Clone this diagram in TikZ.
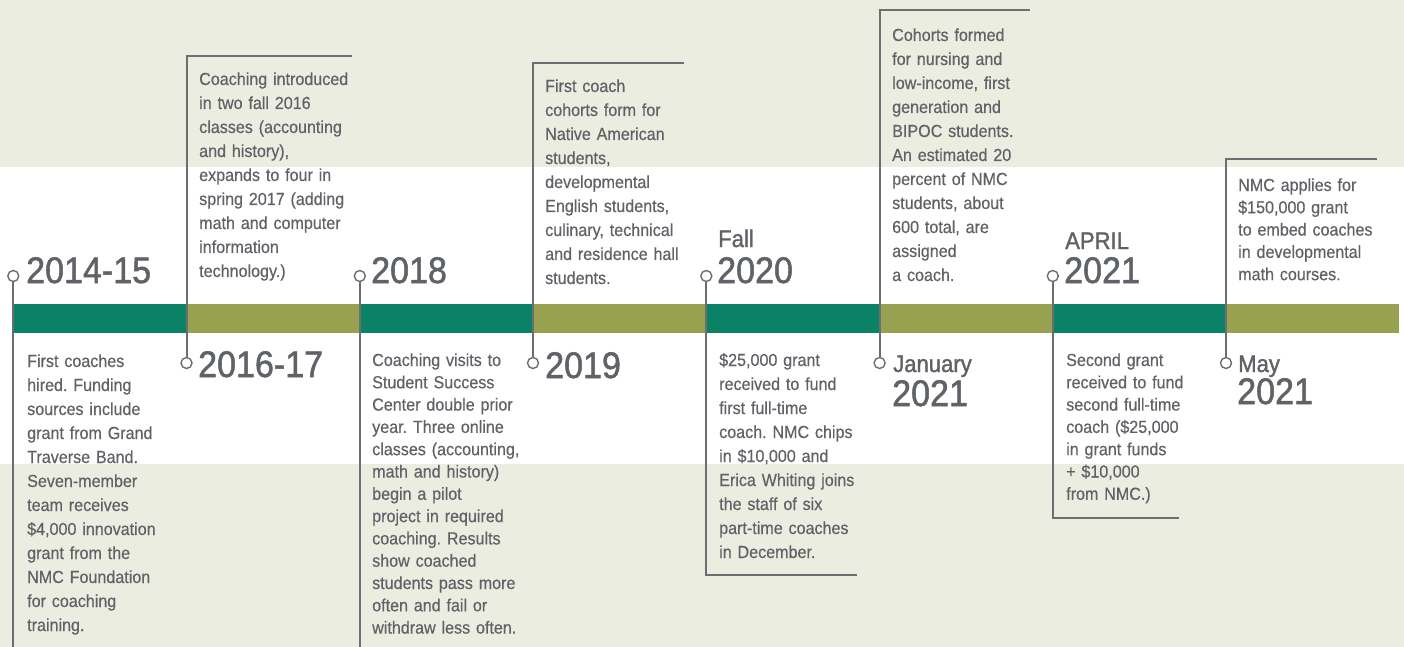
\documentclass[tikz,border=0pt]{standalone}
\usepackage{fontspec}
\setmainfont[FakeStretch=0.92,FakeBold=0.4]{Liberation Sans}
\newfontfamily\yearfont[FakeStretch=0.92,FakeBold=1.4]{Liberation Sans}
\frenchspacing
\definecolor{beige}{HTML}{ECEDE1}
\definecolor{tlgreen}{HTML}{0B8165}
\definecolor{tlolive}{HTML}{97A14F}
\definecolor{txt}{HTML}{5F6266}
\definecolor{ln}{HTML}{6D6E71}
\begin{document}
\begin{tikzpicture}[x=1pt,y=-1pt,
  desc/.style={anchor=base west, inner sep=0pt, text width=200pt, align=left, text=txt, font=\fontsize{17.5}{24}\selectfont},
  desct/.style={desc, font=\fontsize{17.5}{22.3}\selectfont},
  year/.style={anchor=base west, inner sep=0pt, text=txt, font=\yearfont\fontsize{37}{37}\selectfont},
  sub/.style={anchor=base west, inner sep=0pt, text=txt, font=\yearfont\fontsize{24}{24}\selectfont},
  dot/.style={circle, draw=ln, fill=white, line width=1.4pt, minimum size=11pt, inner sep=0pt},
  conn/.style={draw=ln, line width=2pt},
]
% background bands
\fill[beige] (0,0) rectangle (1404,167);
\fill[white] (0,167) rectangle (1404,464);
\fill[beige] (0,464) rectangle (1404,647);
\useasboundingbox (0,0) rectangle (1404,647);

% timeline bar
\foreach \i in {0,...,7}{
  \pgfmathsetmacro{\xa}{13.3+\i*173.25}
  \pgfmathsetmacro{\xb}{13.3+(\i+1)*173.25}
  \pgfmathparse{mod(\i,2)==0 ? 1 : 0}
  \ifnum\pgfmathresult=1
    \fill[tlgreen] (\xa,304) rectangle (\xb,333);
  \else
    \fill[tlolive] (\xa,304) rectangle (\xb,333);
  \fi
}

% line end coordinates
\coordinate (e1) at (13.3,647);
\coordinate (t2) at (186.5,56);  \coordinate (t2e) at (352,56);
\coordinate (e3) at (359.8,647);
\coordinate (t4) at (533,63);    \coordinate (t4e) at (684,63);
\coordinate (b5) at (706.3,575); \coordinate (b5e) at (857,575);
\coordinate (t6) at (879.6,10);  \coordinate (t6e) at (1030,10);
\coordinate (b7) at (1052.8,518);\coordinate (b7e) at (1179,518);
\coordinate (t8) at (1226,159);  \coordinate (t8e) at (1377,159);

% markers
\node[dot] (c1) at (13.3,276) {};
\node[dot] (c2) at (186.5,363) {};
\node[dot] (c3) at (359.8,276) {};
\node[dot] (c4) at (533,363) {};
\node[dot] (c5) at (706.3,276) {};
\node[dot] (c6) at (879.6,363) {};
\node[dot] (c7) at (1052.8,276) {};
\node[dot] (c8) at (1226,363) {};

% connectors
\draw[conn] (c1) -- (e1);
\draw[conn] (c2) -- (t2) -- (t2e);
\draw[conn] (c3) -- (e3);
\draw[conn] (c4) -- (t4) -- (t4e);
\draw[conn] (c5) -- (b5) -- (b5e);
\draw[conn] (c6) -- (t6) -- (t6e);
\draw[conn] (c7) -- (b7) -- (b7e);
\draw[conn] (c8) -- (t8) -- (t8e);

% years
\node[year] (y1) at (26,283) {2014-15};
\node[year] (y2) at (198,377) {2016-17};
\node[year] (y3) at (371,283) {2018};
\node[year] (y4) at (545,378) {2019};
\node[sub]  (s5) at (718,247) {Fall};
\node[year] (y5) at (717,283) {2020};
\node[sub]  (s6) at (893,372) {January};
\node[year] (y6) at (892,406) {2021};
\node[sub]  (s7) at (1065,249) {APRIL};
\node[year] (y7) at (1064,283) {2021};
\node[sub]  (s8) at (1238,372) {May};
\node[year] (y8) at (1237,404) {2021};

% descriptions
\node[desc] (d1) at (27,367) {First coaches\\hired. Funding\\sources include\\grant from Grand\\Traverse Band.\\Seven-member\\team receives\\\$4,000 innovation\\grant from the\\NMC Foundation\\for coaching\\training.};
\node[desc] (d2) at (199,85) {Coaching introduced\\in two fall 2016\\classes (accounting\\and history),\\expands to four in\\spring 2017 (adding\\math and computer\\information\\technology.)};
\node[desct] (d3) at (372,366) {Coaching visits to\\Student Success\\Center double prior\\year. Three online\\classes (accounting,\\math and history)\\begin a pilot\\project in required\\coaching. Results\\show coached\\students pass more\\often and fail or\\withdraw less often.};
\node[desc] (d4) at (545,92) {First coach\\cohorts form for\\Native American\\students,\\developmental\\English students,\\culinary, technical\\and residence hall\\students.};
\node[desc] (d5) at (719,366) {\$25,000 grant\\received to fund\\first full-time\\coach. NMC chips\\in \$10,000 and\\Erica Whiting joins\\the staff of six\\part-time coaches\\in December.};
\node[desc] (d6) at (892,41) {Cohorts formed\\for nursing and\\low-income, first\\generation and\\BIPOC students.\\An estimated 20\\percent of NMC\\students, about\\600 total, are\\assigned\\a coach.};
\node[desct] (d7) at (1066,366) {Second grant\\received to fund\\second full-time\\coach (\$25,000\\in grant funds\\+ \$10,000\\from NMC.)};
\node[desct] (d8) at (1238,191) {NMC applies for\\\$150,000 grant\\to embed coaches\\in developmental\\math courses.};
\end{tikzpicture}
\end{document}
